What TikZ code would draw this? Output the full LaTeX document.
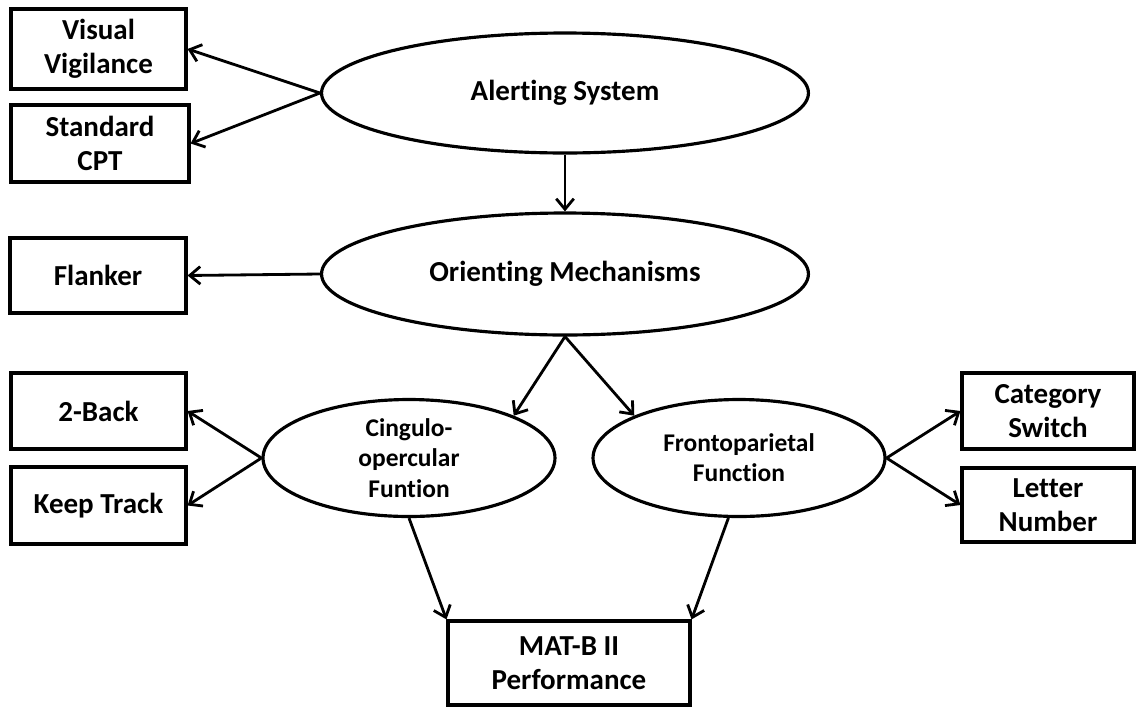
\documentclass[tikz,border=0pt]{standalone}
\usepackage{fontspec}
\setmainfont{Carlito}[Ligatures=NoCommon]
\usetikzlibrary{shapes.geometric,arrows.meta}

\begin{document}
\begin{tikzpicture}[x=0.02cm,y=-0.02cm,->,>={Straight Barb[length=6pt,width=10pt]},
    line width=1.6pt,
    task node/.style={rectangle,draw,line width=1.8pt,align=center,inner sep=0pt,
      font=\fontsize{16.5}{19.5}\selectfont\bfseries},
    net node/.style={ellipse,draw,line width=1.8pt,align=center,inner sep=0pt,
      font=\fontsize{16.5}{19.5}\selectfont\bfseries}]

    \useasboundingbox (0,0) rectangle (1136,707);

    % networks
    \node[net node,minimum width=9.74cm,minimum height=2.4cm] (alert) at (565,93) {Alerting System};
    \node[net node,minimum width=9.74cm,minimum height=2.44cm] (orient) at (565,274) {Orienting Mechanisms};
    \node[net node,minimum width=5.84cm,minimum height=2.34cm,font=\fontsize{14.5}{17.2}\selectfont\bfseries] (cing) at (409,458) {Cingulo-\\opercular\\Funtion};
    \node[net node,minimum width=5.84cm,minimum height=2.34cm,font=\fontsize{14.5}{17.2}\selectfont\bfseries] (front) at (739,458) {Frontoparietal\\Function};

    % tasks
    \node[task node,minimum width=3.5cm,minimum height=1.6cm] (vv) at (98.5,49) {Visual\\Vigilance};
    \node[task node,minimum width=3.56cm,minimum height=1.54cm] (cpt) at (100,143.5) {Standard\\CPT};
    \node[task node,minimum width=3.52cm,minimum height=1.5cm] (flank) at (98,275.5) {Flanker};
    \node[task node,minimum width=3.5cm,minimum height=1.52cm] (back) at (98.5,411) {2-Back};
    \node[task node,minimum width=3.5cm,minimum height=1.54cm] (keep) at (98.5,505.5) {Keep Track};
    \node[task node,minimum width=3.44cm,minimum height=1.52cm] (cat) at (1048,411) {Category\\Switch};
    \node[task node,minimum width=3.44cm,minimum height=1.48cm] (letter) at (1048,505) {Letter\\Number};
    \node[task node,minimum width=4.84cm,minimum height=1.68cm] (matb) at (569,663) {MAT-B II\\Performance};

    \path
    (alert.west) edge (vv.east)
    (alert.west) edge (cpt.east)
    (alert.south) edge (orient.north)
    (orient.west) edge (flank.east)
    (orient.south) edge (cing.22)
    (orient.south) edge (front.158)
    (cing.west) edge (back.east)
    (cing.west) edge (keep.east)
    (front.east) edge (cat.west)
    (front.east) edge (letter.west)
    (cing.south) edge (matb.north west)
    (front.260) edge (matb.north east);
  \end{tikzpicture}
\end{document}
